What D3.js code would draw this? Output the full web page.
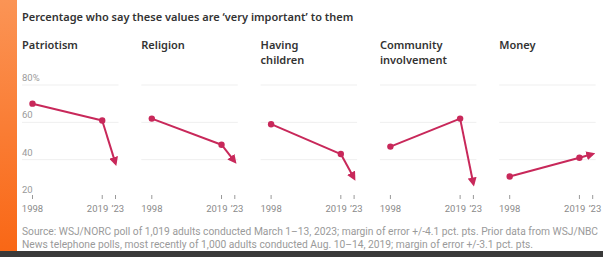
<!DOCTYPE html>
<html>
<head>
<meta charset="utf-8">
<script src="https://cdn.jsdelivr.net/npm/d3@7"></script>
<style>
  body { margin: 0; background: #fff; }
  svg { display: block; }
</style>
</head>
<body>
<div id="chart"></div>
<script>
var svgWidth = 603;
var svgHeight = 257;

// data
var categories = ["Patriotism", "Religion", "Having children", "Community involvement", "Money"];
var titleLines = [["Patriotism"], ["Religion"], ["Having", "children"], ["Community", "involvement"], ["Money"]];
var years = [1998, 2019, 2023];
var yearLabels = ["1998", "2019", "\u201923"];
var patriotism = [70, 61, 38];
var religion = [62, 48, 39];
var children = [59, 43, 30];
var community = [47, 62, 27];
var money = [31, 41, 43];
var seriesValues = [patriotism, religion, children, community, money];
var yTicks = [20, 40, 60, 80];

var lineColor = "#c8285a";
var panelStep = 119.3;
var firstX = 32.5;

var svg = d3.select("#chart")
  .append("svg")
  .attr("width", svgWidth)
  .attr("height", svgHeight);

var defs = svg.append("defs");

var grad = defs.append("linearGradient")
  .attr("id", "orange")
  .attr("x1", 0).attr("y1", 0).attr("x2", 0).attr("y2", 1);
grad.append("stop").attr("offset", "0%").attr("stop-color", "#fb9455");
grad.append("stop").attr("offset", "100%").attr("stop-color", "#f96614");

defs.append("marker")
  .attr("id", "arrow")
  .attr("viewBox", "0 0 10 10")
  .attr("refX", 7)
  .attr("refY", 5)
  .attr("markerWidth", 4.5)
  .attr("markerHeight", 4.5)
  .attr("markerUnits", "strokeWidth")
  .attr("orient", "auto")
  .append("path")
  .attr("d", "M0,0 L10,5 L0,10 z")
  .attr("fill", lineColor);

// side bar and bottom strip
svg.append("rect")
  .attr("x", 0).attr("y", 0)
  .attr("width", 17).attr("height", svgHeight)
  .attr("fill", "url(#orange)");

svg.append("rect")
  .attr("x", 0).attr("y", 251)
  .attr("width", svgWidth).attr("height", 6)
  .attr("fill", "#3a3a3a");

// chart title
svg.append("text")
  .attr("x", 22)
  .attr("y", 21)
  .attr("font-family", "'Noto Sans', sans-serif")
  .attr("font-weight", 600)
  .attr("font-size", 11)
  .attr("fill", "#333")
  .text("Percentage who say these values are \u2018very important\u2019 to them");

var yScale = d3.scaleLinear()
  .domain([20, 80])
  .range([197, 85]);

var xScale = d3.scaleLinear()
  .domain([1998, 2023])
  .range([0, 83]);

categories.forEach(function(cat, i) {
  var ox = firstX + i * panelStep;
  var panel = svg.append("g")
    .attr("transform", `translate(${ox}, 0)`);

  // panel title
  var title = panel.append("text")
    .attr("x", -10.5)
    .attr("y", 49)
    .attr("font-family", "'Noto Sans', sans-serif")
    .attr("font-weight", 600)
    .attr("font-size", 11)
    .attr("fill", "#333");
  titleLines[i].forEach(function(line, j) {
    title.append("tspan")
      .attr("x", -10.5)
      .attr("dy", j === 0 ? 0 : 15)
      .text(line);
  });

  // gridlines
  panel.selectAll(".grid")
    .data(yTicks.slice(1))
    .enter()
    .append("line")
    .attr("x1", -10.5)
    .attr("x2", 86)
    .attr("y1", d => yScale(d))
    .attr("y2", d => yScale(d))
    .attr("stroke", "#efefef")
    .attr("stroke-width", 1);

  // y labels only on first panel
  if (i === 0) {
    panel.selectAll(".ylab")
      .data(yTicks)
      .enter()
      .append("text")
      .attr("x", -10.5)
      .attr("y", d => yScale(d) - 4)
      .attr("font-family", "'Roboto', sans-serif")
      .attr("font-size", 9.5)
      .attr("fill", "#9a9a9a")
      .text(d => d === 80 ? d + "%" : d);
  }

  // x ticks
  panel.selectAll(".tick")
    .data(years)
    .enter()
    .append("line")
    .attr("x1", d => xScale(d))
    .attr("x2", d => xScale(d))
    .attr("y1", 195)
    .attr("y2", 199)
    .attr("stroke", "#999")
    .attr("stroke-width", 1);

  panel.selectAll(".xlab")
    .data(years)
    .enter()
    .append("text")
    .attr("x", (d, k) => k === 0 ? xScale(d) : (k === 1 ? xScale(d) + 6 : xScale(d) - 4))
    .attr("y", 212)
    .attr("text-anchor", (d, k) => k === 0 ? "middle" : (k === 1 ? "end" : "start"))
    .attr("font-family", "'Roboto', sans-serif")
    .attr("font-size", 9.5)
    .attr("fill", "#8a8a8a")
    .text((d, k) => yearLabels[k]);

  var pts = years.map((y, k) => ({ year: y, value: seriesValues[i][k] }));

  var line = d3.line()
    .x(d => xScale(d.year))
    .y(d => yScale(d.value));

  // first segment plain, last segment with arrowhead
  panel.append("path")
    .datum(pts.slice(0, 2))
    .attr("d", line)
    .attr("fill", "none")
    .attr("stroke", lineColor)
    .attr("stroke-width", 2);

  panel.append("path")
    .datum(pts.slice(1))
    .attr("d", line)
    .attr("fill", "none")
    .attr("stroke", lineColor)
    .attr("stroke-width", 2)
    .attr("marker-end", "url(#arrow)");

  panel.selectAll(".dot")
    .data(pts.slice(0, 2))
    .enter()
    .append("circle")
    .attr("cx", d => xScale(d.year))
    .attr("cy", d => yScale(d.value))
    .attr("r", 3.2)
    .attr("fill", lineColor);
});

// source note
var source = [
  "Source: WSJ/NORC poll of 1,019 adults conducted March 1\u201313, 2023; margin of error +/-4.1 pct. pts. Prior data from WSJ/NBC",
  "News telephone polls, most recently of 1,000 adults conducted Aug. 10\u201314, 2019; margin of error +/-3.1 pct. pts."
];
var sourceWidths = [576, 511];
svg.selectAll(".source")
  .data(source)
  .enter()
  .append("text")
  .attr("x", 22)
  .attr("y", (d, i) => 235 + i * 13)
  .attr("font-family", "'Roboto', sans-serif")
  .attr("font-size", 10)
  .attr("textLength", (d, i) => sourceWidths[i])
  .attr("lengthAdjust", "spacingAndGlyphs")
  .attr("fill", "#9a9a9a")
  .text(d => d);
</script>
</body>
</html>
